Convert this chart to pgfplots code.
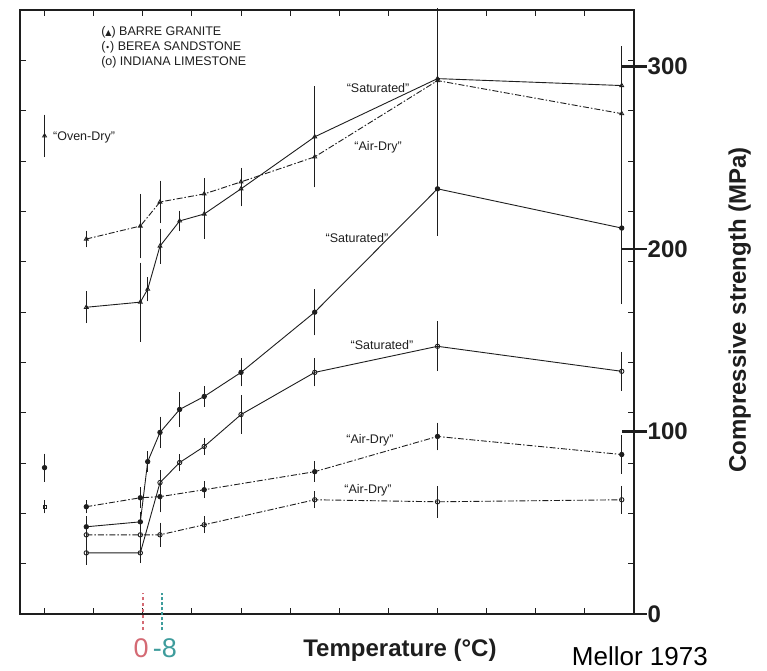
\documentclass[border=0pt]{standalone}
\usepackage{fontspec}
\setmainfont{Liberation Sans}
\newfontfamily\symfont{DejaVu Sans}
\usepackage{pgfplots}
\pgfplotsset{compat=1.18}

\definecolor{ink}{HTML}{1E1E1E}
\definecolor{zeroc}{HTML}{D46A74}
\definecolor{eightc}{HTML}{3E9C9C}

\pgfplotsset{
  ser/.style={color=ink, line width=0.9pt, mark size=2.2pt,
    error bars/y dir=both, error bars/y explicit,
    error bars/error bar style={line width=0.7pt, solid},
    error bars/error mark options={mark size=3pt, line width=0.7pt, solid}},
  airdry/.style={dash pattern=on 6pt off 2pt on 1.5pt off 2pt},
  gran/.style={mark=triangle, mark options={solid, fill=white}},
  sand/.style={mark=*, mark options={solid, fill=ink}},
  lime/.style={mark=o, mark options={solid, fill=white}},
}
\tikzset{lbl/.style={font=\fontsize{12.5}{14}\selectfont, text=ink, inner sep=1pt}}

\begin{document}
\begin{tikzpicture}[x=1pt, y=1pt]
\useasboundingbox (-20,-56) rectangle (747,614);

% ---- main frame: temperature (deg C, decreasing to the right) vs strength (MPa)
\begin{axis}[
  at={(0,0)}, anchor=south west, scale only axis,
  width=614pt, height=604pt,
  x dir=reverse, xmin=-200, xmax=50, ymin=0, ymax=331,
  xtick={-180,-160,...,40},
  % original psi grid: a tick every 4000 psi
  ytick={0,27.58,55.16,82.74,110.32,137.9,165.47,193.05,220.63,248.21,275.79,303.37},
  xticklabels={}, yticklabels={},
  tick align=inside, major tick length=6pt,
  axis line style={line width=1.3pt, ink},
  tick style={line width=0.9pt, ink},
  clip=false,
]

% Barre granite
\addplot+[ser, gran, solid] coordinates {
  (23,168.1) +- (0,7)  (1,170.9) +- (0,20) (-2,178.0) +- (0,5)
  (-7,201.6) +- (0,8)  (-15,215.4) +- (0,4) (-25,219.2) +- (0,12)
  (-40,233.0) +- (0,8) (-70,261.5) +- (0,26) (-120,293.4) +- (0,37)
  (-195,289.6) +- (0,20)};
\addplot+[ser, gran, airdry] coordinates {
  (23,205.5) +- (0,3)  (1,212.6) +- (0,16) (-7,225.8) +- (0,10)
  (-25,230.2) +- (0,7) (-40,236.8) +- (0,6) (-70,250.5) +- (0,5)
  (-120,292.3) +- (0,5) (-195,274.2) +- (0,20)};
\addplot+[ser, gran, only marks] coordinates {(40,262) +- (0,10)};

% Berea sandstone
\addplot+[ser, sand, solid] coordinates {
  (23,47.8) +- (0,4)  (1,50.5) +- (0,4)  (-2,83.5) +- (0,4)
  (-7,99.5) +- (0,7)  (-15,112.1) +- (0,8) (-25,119.2) +- (0,4)
  (-40,132.4) +- (0,6) (-70,165.4) +- (0,11) (-120,233.0) +- (0,24)
  (-195,211.5) +- (0,40)};
\addplot+[ser, sand, airdry] coordinates {
  (23,58.8) +- (0,2)  (1,63.7) +- (0,4)  (-7,64.3) +- (0,7)
  (-25,68.1) +- (0,3) (-70,78.0) +- (0,4) (-120,97.3) +- (0,6)
  (-195,87.4) +- (0,9)};
\addplot+[ser, sand, only marks] coordinates {(40,80.2) +- (0,6)};

% Indiana limestone
\addplot+[ser, lime, solid] coordinates {
  (23,33.5) +- (0,5)  (1,33.5) +- (0,4)  (-7,72.0) +- (0,5)
  (-15,83.0) +- (0,3) (-25,91.8) +- (0,3) (-40,109.3) +- (0,9)
  (-70,132.4) +- (0,6) (-120,146.7) +- (0,12) (-195,133.0) +- (0,9)};
\addplot+[ser, lime, airdry] coordinates {
  (23,43.4) +- (0,3)  (1,43.4) +- (0,5)  (-7,43.4) +- (0,5)
  (-25,48.9) +- (0,3) (-70,62.6) +- (0,3) (-120,61.5) +- (0,7)
  (-195,62.6) +- (0,6)};
\addplot+[ser, mark=square, mark size=1.6pt, mark options={solid, fill=white}, only marks]
  coordinates {(40,58.8) +- (0,2)};

% 0 and -8 degC markers below the axis
\addplot[zeroc, line width=2pt, dash pattern=on 3pt off 3pt, mark=none] coordinates {(0,-9) (0,11.5)};
\addplot[eightc, line width=2pt, dash pattern=on 3pt off 2pt, mark=none] coordinates {(-8,-9) (-8,11.5)};

% key
\node[lbl, anchor=west] at (axis cs:17.4,319) {({\symfont\footnotesize ▲}) BARRE GRANITE};
\node[lbl, anchor=west] at (axis cs:17.4,310.7) {({\symfont\footnotesize •}) BEREA SANDSTONE};
\node[lbl, anchor=west] at (axis cs:17.4,302.5) {(o) INDIANA LIMESTONE};

% curve labels
\node[lbl, anchor=west] at (axis cs:37,261.4) {“Oven-Dry”};
\node[lbl] at (axis cs:-95.8,288.2) {“Saturated”};
\node[lbl] at (axis cs:-95.8,255.9) {“Air-Dry”};
\node[lbl] at (axis cs:-87.2,206.0) {“Saturated”};
\node[lbl] at (axis cs:-97.4,147.4) {“Saturated”};
\node[lbl] at (axis cs:-92.5,95.4) {“Air-Dry”};
\node[lbl] at (axis cs:-91.7,68.0) {“Air-Dry”};

% axis titles
\node[text=zeroc, font=\fontsize{27}{27}\selectfont] at (axis cs:0.7,-18.6) {0};
\node[text=eightc, font=\fontsize{27}{27}\selectfont] at (axis cs:-9.0,-18.6) {-8};
\node[font=\bfseries\fontsize{24}{24}\selectfont, text=ink] at (axis cs:-104.7,-19.7) {Temperature (°C)};
\node[font=\fontsize{26}{26}\selectfont] at (axis cs:-202.4,-23) {Mellor 1973};
\node[font=\bfseries\fontsize{24}{24}\selectfont, text=ink, rotate=90] at (axis cs:-243,166.6) {Compressive strength (MPa)};
\end{axis}

% ---- MPa scale on the right
\begin{axis}[
  at={(0,0)}, anchor=south west, scale only axis,
  width=614pt, height=604pt,
  xmin=-200, xmax=50, ymin=0, ymax=331,
  axis x line=none, axis y line*=right,
  y axis line style={draw=none},
  ytick={0,100,200,300},
  tick align=center, major tick length=25pt,
  tick style={line width=2.2pt, ink},
  /pgf/number format/assume math mode=true,
  yticklabel style={font=\bfseries\fontsize{24}{24}\selectfont, text=ink, anchor=west, inner sep=0pt, xshift=1pt},
]
\end{axis}
\end{tikzpicture}
\end{document}
